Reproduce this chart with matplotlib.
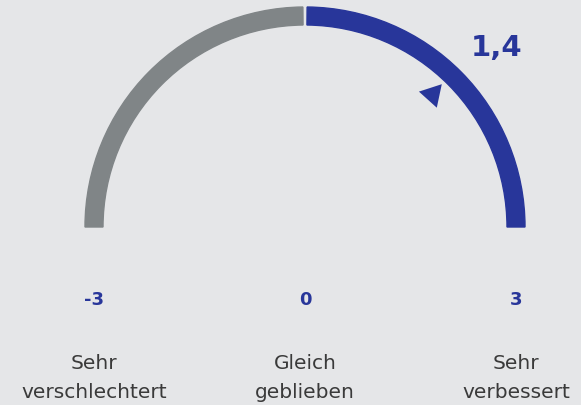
import numpy as np
import matplotlib.pyplot as plt
from matplotlib.patches import Wedge

vmin, vmax = -3, 3
value = 1.4
value_label = "1,4"
tick_values = [-3, 0, 3]
tick_labels = ["-3", "0", "3"]
cat_labels = ["Sehr\nverschlechtert", "Gleich\ngeblieben", "Sehr\nverbessert"]

bg = "#e5e6e8"
blue = "#28369a"
grey = "#808587"
txt = "#3a3a3a"

plt.rcParams['font.family'] = ['DejaVu Sans']

fig = plt.figure(figsize=(5.81, 4.06), dpi=100, facecolor=bg)
ax = fig.add_axes([0, 0, 1, 1])
ax.set_facecolor(bg)
ax.set_xlim(-305, 276)
ax.set_ylim(-178, 228)
ax.set_aspect('equal')
ax.axis('off')

R, W = 220, 18


def ang(v):
    return 180 - (v - vmin) / (vmax - vmin) * 180


gap = 0.55
ax.add_patch(Wedge((0, 0), R, ang(0) + gap, ang(vmin), width=W, color=grey))
ax.add_patch(Wedge((0, 0), R, ang(vmax), ang(0) - gap, width=W, color=blue))

# pointer triangle
th = ang(value)
r_m = 184
ax.plot(r_m * np.cos(np.radians(th - 1.8)), r_m * np.sin(np.radians(th - 1.8)),
        marker=(3, 0, th + 30), markersize=20, color=blue, markeredgewidth=0)

ax.text(192, 180, value_label, color=blue, fontsize=21, fontweight='bold',
        ha='center', va='center')

for v, t, c in zip(tick_values, tick_labels, cat_labels):
    x = np.cos(np.radians(ang(v))) * (R - W / 2)
    ax.text(x, -72, t, color=blue, fontsize=13, fontweight='bold',
            ha='center', va='center')
    ax.text(x, -150, c, color=txt, fontsize=14.5, ha='center', va='center',
            linespacing=1.7)

fig.savefig("out.png", dpi=100, facecolor=bg)
